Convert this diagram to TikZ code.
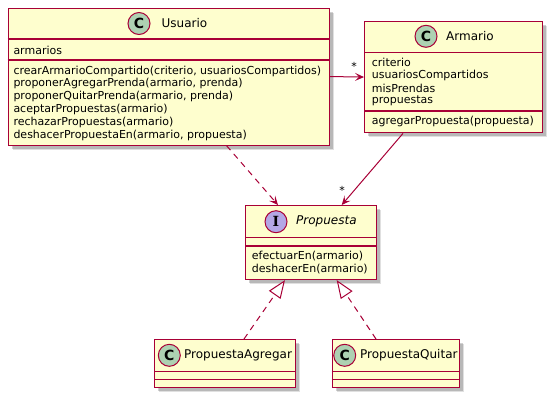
\documentclass[tikz,border=0pt]{standalone}
\usepackage{fontspec}
\setmainfont{DejaVu Sans}
\newfontfamily\serifbold{DejaVu Serif}
\usetikzlibrary{arrows.meta,shadows}
\definecolor{plborder}{HTML}{A80036}
\definecolor{plfill}{HTML}{FEFECE}
\definecolor{plc}{HTML}{ADD1B2}
\definecolor{pli}{HTML}{B4A7E5}
\tikzset{
  classbox/.style={draw=plborder, fill=plfill, line width=1.1pt, rectangle, anchor=north west, inner sep=0pt,
    general shadow={shadow xshift=4.5pt, shadow yshift=-4.5pt, opacity=0.12, fill=black},
    general shadow={shadow xshift=3.5pt, shadow yshift=-3.5pt, opacity=0.18, fill=black}},
  sep/.style={draw=plborder, line width=1.1pt},
  spot/.style={circle, draw=plborder, line width=1pt, minimum size=22pt, inner sep=0pt, font=\fontsize{14}{14}\selectfont\bfseries},
  cname/.style={anchor=west, inner sep=0pt, font=\fontsize{12}{14}\selectfont},
  mem/.style={anchor=west, inner sep=0pt, font=\fontsize{11}{13}\selectfont},
  lbl/.style={inner sep=0pt, font=\fontsize{11}{13}\selectfont},
  assoc/.style={draw=plborder, line width=1pt, -{Stealth[length=9pt, width=8pt, inset=4pt]}},
  dep/.style={draw=plborder, line width=1pt, dash pattern=on 6pt off 5pt, -{Stealth[length=9pt, width=8pt, inset=4pt]}},
  real/.style={draw=plborder, line width=1pt, dash pattern=on 6pt off 5pt, -{Triangle[open, length=18pt, width=14pt, fill=white]}},
}
\begin{document}
\begin{tikzpicture}[x=1pt, y=-1pt]
\useasboundingbox (0,0) rectangle (554,400);

% Usuario
\node[classbox, minimum width=321.5pt, minimum height=137pt] (usuario) at (7.5,7.5) {};
\draw[sep] (7.5,39) -- (329,39);
\draw[sep] (7.5,60) -- (329,60);
\node[spot, fill=plc] (usuarioC) at (139,23.5) {C};
\node[cname] (usuarioN) at (161.5,23.5) {Usuario};
\node[mem] (u0) at (13.3,50) {armarios};
\node[mem] (u1) at (13.3,71) {crearArmarioCompartido(criterio, usuariosCompartidos)};
\node[mem] (u2) at (13.3,83.8) {proponerAgregarPrenda(armario, prenda)};
\node[mem] (u3) at (13.3,96.6) {proponerQuitarPrenda(armario, prenda)};
\node[mem] (u4) at (13.3,109.4) {aceptarPropuestas(armario)};
\node[mem] (u5) at (13.3,122.2) {rechazarPropuestas(armario)};
\node[mem] (u6) at (13.3,135) {deshacerPropuestaEn(armario, propuesta)};

% Armario
\node[classbox, minimum width=177.7pt, minimum height=111.6pt] (armario) at (364,20.7) {};
\draw[sep] (364,52.3) -- (541.7,52.3);
\draw[sep] (364,111) -- (541.7,111);
\node[spot, fill=plc] (armarioC) at (426,36.3) {C};
\node[cname] (armarioN) at (446,36.3) {Armario};
\node[mem] (a1) at (371.7,62.3) {criterio};
\node[mem] (a2) at (371.7,75.1) {usuariosCompartidos};
\node[mem] (a3) at (371.7,87.9) {misPrendas};
\node[mem] (a4) at (371.7,100.7) {propuestas};
\node[mem] (a5) at (371.7,121.7) {agregarPropuesta(propuesta)};

% Propuesta
\node[classbox, minimum width=130.4pt, minimum height=74pt] (propuesta) at (245.3,205) {};
\draw[sep] (245.3,237.7) -- (375.7,237.7);
\draw[sep] (245.3,246) -- (375.7,246);
\node[spot, fill=pli, font=\fontsize{14}{14}\selectfont\serifbold\bfseries] (propuestaI) at (276,221.7) {I};
\node[cname, font=\fontsize{12}{14}\selectfont\itshape] (propuestaN) at (296,221.7) {Propuesta};
\node[mem] (p1) at (251.7,255.7) {efectuarEn(armario)};
\node[mem] (p2) at (251.7,268.7) {deshacerEn(armario)};

% PropuestaAgregar
\node[classbox, minimum width=141.3pt, minimum height=48.3pt] (pagregar) at (154,339) {};
\draw[sep] (154,371.7) -- (295.3,371.7);
\draw[sep] (154,379.3) -- (295.3,379.3);
\node[spot, fill=plc] (pagregarC) at (169.3,355.3) {C};
\node[cname] (pagregarN) at (184,355.3) {PropuestaAgregar};

% PropuestaQuitar
\node[classbox, minimum width=127.6pt, minimum height=48.3pt] (pquitar) at (331.7,339) {};
\draw[sep] (331.7,371.7) -- (459.3,371.7);
\draw[sep] (331.7,379.3) -- (459.3,379.3);
\node[spot, fill=plc] (pquitarC) at (344.7,355.3) {C};
\node[cname] (pquitarN) at (360,355.3) {PropuestaQuitar};

% connectors
\draw[assoc] (usuario.east) -- (armario.west);
\node[lbl] (m1) at (354,66) {*};
\draw[assoc] ([xshift=39pt]armario.south west) -- ([xshift=96.4pt]propuesta.north west);
\node[lbl] (m2) at (342,190) {*};
\draw[dep] ([xshift=219pt]usuario.south west) -- ([xshift=32.7pt]propuesta.north west);
\draw[real] ([xshift=90pt]pagregar.north west) -- ([xshift=39.7pt]propuesta.south west);
\draw[real] ([xshift=44.3pt]pquitar.north west) -- ([xshift=91.4pt]propuesta.south west);
\end{tikzpicture}
\end{document}
